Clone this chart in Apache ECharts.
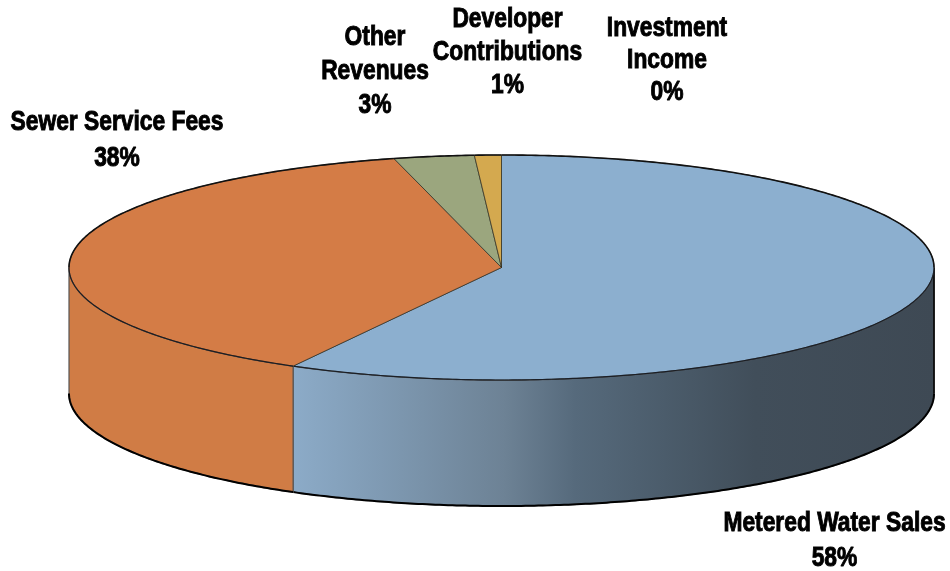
<!DOCTYPE html>
<html>
<head>
<meta charset="utf-8">
<style>html,body{margin:0;padding:0;background:#fff}#chart{width:950px;height:571px}</style>
<script src="https://cdn.jsdelivr.net/npm/echarts@6/dist/echarts.min.js"></script>
</head>
<body>
<div id="chart"></div>
<script>
// Revenue shares, clockwise from twelve o'clock
const categories = ['Metered Water Sales', 'Sewer Service Fees', 'Other\nRevenues', 'Developer\nContributions', 'Investment\nIncome'];
const shares = [58, 38, 3, 1, 0];

// Disc geometry and look of the tilted pie
const disc = { cx: 501.5, cy: 267.5, rx: 432.5, ry: 112.5, depth: 126 };
const topColors = ['#8cafcf', '#d47c46', '#9ba67e', '#d4a94f', '#8cafcf'];
// Label block placement: centre x, first line y, line spacing
const labelBlocks = [[834.5, 523, 35], [117, 122, 36], [375, 37, 34], [507.5, 19, 33], [667, 28, 32]];

const total = shares.reduce((a, b) => a + b, 0);
const TAU = Math.PI * 2;

// Project an angle (radians clockwise from the top) on to the disc's rim
function rim(angle, drop) {
  return [disc.cx + disc.rx * Math.sin(angle), disc.cy - disc.ry * Math.cos(angle) + (drop || 0)];
}
function arc(from, to, drop) {
  const steps = Math.max(2, Math.ceil(Math.abs(to - from) / 0.01));
  const pts = [];
  for (let i = 0; i <= steps; i++) pts.push(rim(from + (to - from) * i / steps, drop));
  return pts;
}
function stroked(points, stroke, lineWidth) {
  return { type: 'polyline', shape: { points }, style: { fill: 'none', stroke, lineWidth } };
}

const wallFill = [
  { type: 'linear', x: 0, y: 0, x2: 1, y2: 0, colorStops: [
    { offset: 0, color: '#8cabc8' },
    { offset: 0.17, color: '#7c96ae' },
    { offset: 0.33, color: '#6d8295' },
    { offset: 0.44, color: '#566a7c' },
    { offset: 0.58, color: '#4b5c6b' },
    { offset: 0.72, color: '#414e5a' },
    { offset: 1, color: '#3e4954' }
  ] },
  '#d07c45'
];

function renderSlice(params, api) {
  const i = params.dataIndex;
  const value = api.value(0);
  let before = 0;
  for (let k = 0; k < i; k++) before += shares[k];
  const start = before / total * TAU;
  const end = (before + value) / total * TAU;
  const children = [];

  // Side wall: only the part of the slice on the front half of the rim
  const wallFrom = Math.max(start, Math.PI / 2);
  const wallTo = Math.min(end, Math.PI * 1.5);
  if (wallTo > wallFrom) {
    const upper = arc(wallFrom, wallTo, 0);
    const lower = arc(wallTo, wallFrom, disc.depth);
    children.push({
      type: 'polygon',
      shape: { points: upper.concat(lower) },
      style: { fill: wallFill[i] || topColors[i], stroke: 'rgba(85,85,85,0.8)', lineWidth: 1.5 }
    });
    children.push(stroked(arc(wallFrom, wallTo, disc.depth), '#000', 2));
    if (wallFrom === Math.PI / 2) {
      children.push(stroked([rim(wallFrom, 0), rim(wallFrom, disc.depth)], '#000', 1.6));
    }
  }

  // Top face
  if (value > 0) {
    children.push({
      type: 'polygon',
      shape: { points: [[disc.cx, disc.cy]].concat(arc(start, end, 0)) },
      style: { fill: topColors[i], stroke: 'rgba(45,45,35,0.72)', lineWidth: 1 }
    });
    // Front rim is a fine dark line, the back half of the rim is heavier
    if (wallTo > wallFrom) {
      children.push(stroked(arc(wallFrom, wallTo, 0), 'rgba(20,22,30,0.85)', 1.2));
    }
    if (start < Math.PI / 2) {
      children.push(stroked(arc(start, Math.min(end, Math.PI / 2), 0), '#111', 1.6));
    }
    if (end > Math.PI * 1.5) {
      children.push(stroked(arc(Math.max(start, Math.PI * 1.5), end, 0), '#111', 1.6));
    }
  }

  // Category name with its share underneath, in a tall heavy face
  const block = labelBlocks[i];
  const lines = (categories[i] + '\n' + value + '%').split('\n');
  lines.forEach((line, n) => {
    children.push({
      type: 'text',
      x: block[0],
      y: block[1] + n * block[2],
      scaleY: 1.2,
      style: {
        text: line,
        fill: '#000',
        font: 'bold 22.8px "Liberation Sans", Arial, sans-serif',
        align: 'center',
        verticalAlign: 'middle',
        stroke: '#000',
        lineWidth: 0.8
      }
    });
  });

  return { type: 'group', children };
}

const chart = echarts.init(document.getElementById('chart'), null, { renderer: 'canvas' });
chart.setOption({
  animation: false,
  backgroundColor: '#ffffff',
  series: [{
    type: 'custom',
    coordinateSystem: 'none',
    data: shares.map((v, i) => ({ name: categories[i], value: [v] })),
    encode: { value: 0 },
    renderItem: renderSlice,
    silent: true
  }]
});
</script>
</body>
</html>
